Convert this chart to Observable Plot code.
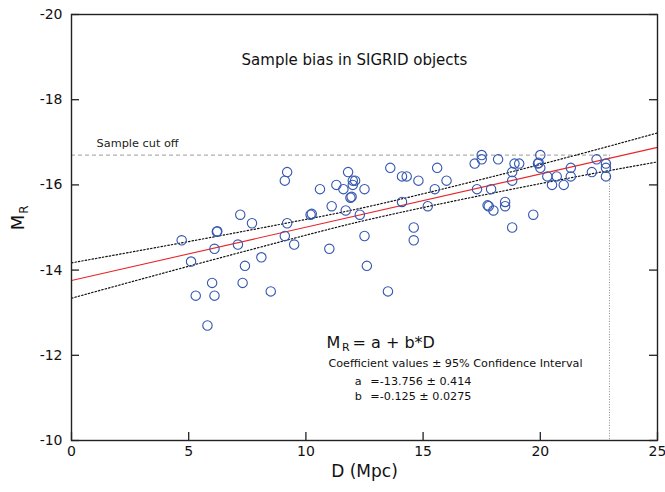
<!DOCTYPE html>
<html><head><meta charset="utf-8">
<script src="https://cdn.jsdelivr.net/npm/d3@7"></script>
<script src="https://cdn.jsdelivr.net/npm/@observablehq/plot@0.6"></script>
<style>
html,body{margin:0;padding:0;background:#fff;}
#chart svg{display:block;}
</style></head><body><div id="chart"></div>
<script>
// ---- data ----
const distMpc = [4.7,5.1,5.3,5.8,6.0,6.1,6.1,6.2,6.22,7.2,7.1,7.3,7.4,7.7,8.1,8.5,
  9.2,9.1,10.6,11.3,11.1,10.2,10.25,9.2,9.1,9.5,11.0,
  11.8,11.6,12.0,12.1,12.0,12.5,11.9,11.95,13.6,14.1,14.3,14.8,15.6,16.0,15.5,11.7,12.3,14.1,15.2,12.5,14.6,14.6,12.6,13.5,
  17.5,17.5,17.2,18.2,18.9,19.1,20.0,19.9,19.93,20.0,18.8,18.8,17.3,17.9,20.3,20.7,20.5,21.0,21.3,21.3,17.8,17.75,18.0,18.5,18.5,19.7,18.8,
  22.4,22.8,22.8,22.2,22.8];
const magR = [-14.7,-14.2,-13.4,-12.7,-13.7,-13.4,-14.5,-14.9,-14.91,-15.3,-14.6,-13.7,-14.1,-15.1,-14.3,-13.5,
  -16.3,-16.1,-15.9,-16.0,-15.5,-15.3,-15.32,-15.1,-14.8,-14.6,-14.5,
  -16.3,-15.9,-16.1,-16.1,-16.0,-15.9,-15.7,-15.72,-16.4,-16.2,-16.2,-16.1,-16.4,-16.1,-15.9,-15.4,-15.3,-15.6,-15.5,-14.8,-15.0,-14.7,-14.1,-13.5,
  -16.7,-16.6,-16.5,-16.6,-16.5,-16.5,-16.7,-16.5,-16.52,-16.4,-16.3,-16.1,-15.9,-15.9,-16.2,-16.2,-16.0,-16.0,-16.4,-16.2,-15.5,-15.52,-15.4,-15.6,-15.5,-15.3,-15.0,
  -16.6,-16.5,-16.4,-16.3,-16.2];

// fitted line (M_R = a + b*D) end values and 95% confidence band
const fitD = [0, 25];
const fitM = [-13.756, -16.881];
const bandD = [0, 5, 10, 14, 20, 25];
const bandUpper = [-14.17, -14.67, -15.19, -15.66, -16.48, -17.22];
const bandLower = [-13.34, -14.09, -14.82, -15.35, -16.03, -16.54];

const cutoffMag = -16.7;
const cutoffD = 22.95;

const xTicks = [0, 5, 10, 15, 20, 25];
const yTicks = [-20, -18, -16, -14, -12, -10];

const titleText = "Sample bias in SIGRID objects";
const cutoffText = "Sample cut off";
const xLabel = "D (Mpc)";
const coeffHeader = "Coefficient values \u00b1 95% Confidence Interval";
const coeffNames = ["a", "b"];
const coeffValues = ["=-13.756 \u00b1 0.414", "=-0.125 \u00b1 0.0275"];

// ---- build ----
const points = distMpc.map((d, i) => ({d, m: magR[i]}));
const fit = fitD.map((d, i) => ({d, m: fitM[i]}));
const upper = bandD.map((d, i) => ({d, m: bandUpper[i]}));
const lower = bandD.map((d, i) => ({d, m: bandLower[i]}));

const W = 665, H = 492, ML = 71, MRt = 8, MT = 14, MB = 52;
const innerW = W - ML - MRt, innerH = H - MT - MB;
const font = "DejaVu Sans";
const ink = "#222";

const plot = Plot.plot({
  width: W, height: H,
  marginLeft: ML, marginRight: MRt, marginTop: MT, marginBottom: MB,
  style: {fontFamily: font, fontSize: "14px", background: "#fff", color: "#111"},
  x: {domain: [0, 25]},
  y: {domain: [-10, -20]},
  marks: [
    Plot.ruleY([cutoffMag], {x1: 0, x2: cutoffD, stroke: "#b0b0b0", strokeDasharray: "4,3", strokeWidth: 1.4}),
    Plot.ruleX([cutoffD], {y1: cutoffMag, y2: -10, stroke: "#8a8a8a", strokeDasharray: "1,1.6", strokeWidth: 1}),
    Plot.line(upper, {x: "d", y: "m", curve: "natural", stroke: "#111", strokeDasharray: "1.5,2", strokeWidth: 1.2}),
    Plot.line(lower, {x: "d", y: "m", curve: "natural", stroke: "#111", strokeDasharray: "1.5,2", strokeWidth: 1.2}),
    Plot.line(fit, {x: "d", y: "m", stroke: "#e8262a", strokeWidth: 1.1}),
    Plot.dot(points, {x: "d", y: "m", r: 4.7, stroke: "#3356b0", fill: "none", strokeWidth: 1.1}),
    Plot.frame({stroke: ink, strokeWidth: 1.4}),
    Plot.tickY(yTicks, {y: d => d, insetRight: innerW - 8, stroke: ink, strokeWidth: 1.3}),
    Plot.tickY(yTicks, {y: d => d, insetLeft: innerW - 8, stroke: ink, strokeWidth: 1.3}),
    Plot.tickX(xTicks, {x: d => d, insetTop: innerH - 8, stroke: ink, strokeWidth: 1.3}),
    Plot.axisY({ticks: yTicks, tickSize: 0, tickPadding: 9, tickFormat: d => String(d), label: null, fontSize: 14}),
    Plot.axisX({ticks: xTicks, tickSize: 0, tickPadding: 6, tickFormat: d => String(d), label: null, fontSize: 14}),
    // title inside plot
    Plot.text([titleText], {x: 12.07, y: -18.92, text: d => d, fontSize: 15, textAnchor: "middle", lineAnchor: "middle", fill: "#111"}),
    // cut-off label
    Plot.text([cutoffText], {x: 1.07, y: -16.9, text: d => d, fontSize: 11.3, textAnchor: "start", lineAnchor: "bottom", fill: "#222"}),
    // formula M_R = a + b*D
    Plot.text(["M"], {x: 10.88, y: -12.183, text: d => d, fontSize: 16, textAnchor: "start", lineAnchor: "bottom", fill: "#111"}),
    Plot.text(["R"], {x: 11.54, y: -12.096, text: d => d, fontSize: 11, textAnchor: "start", lineAnchor: "bottom", fill: "#111"}),
    Plot.text(["= a + b*D"], {x: 11.99, y: -12.183, text: d => d, fontSize: 16, textAnchor: "start", lineAnchor: "bottom", fill: "#111"}),
    Plot.text([coeffHeader], {x: 10.96, y: -11.737, text: d => d, fontSize: 11.2, textAnchor: "start", lineAnchor: "bottom", fill: "#111"}),
    Plot.text(coeffNames, {x: 12.08, y: (d, i) => [-11.298, -10.939][i], text: d => d, fontSize: 11.2, textAnchor: "start", lineAnchor: "bottom", fill: "#111"}),
    Plot.text(coeffValues, {x: 12.75, y: (d, i) => [-11.298, -10.939][i], text: d => d, fontSize: 11.2, textAnchor: "start", lineAnchor: "bottom", fill: "#111"}),
    // axis labels
    Plot.text([xLabel], {frameAnchor: "bottom", dy: 36, text: d => d, fontSize: 17, lineAnchor: "bottom", fill: "#111"}),
    Plot.text(["M"], {frameAnchor: "left", y: -15.12, dx: -53, rotate: -90, text: d => d, fontSize: 18, textAnchor: "middle", lineAnchor: "middle", fill: "#111"}),
    Plot.text(["R"], {frameAnchor: "left", y: -15.42, dx: -47, rotate: -90, text: d => d, fontSize: 12, textAnchor: "middle", lineAnchor: "middle", fill: "#111"})
  ]
});
document.getElementById("chart").appendChild(plot);
</script>
</body></html>
